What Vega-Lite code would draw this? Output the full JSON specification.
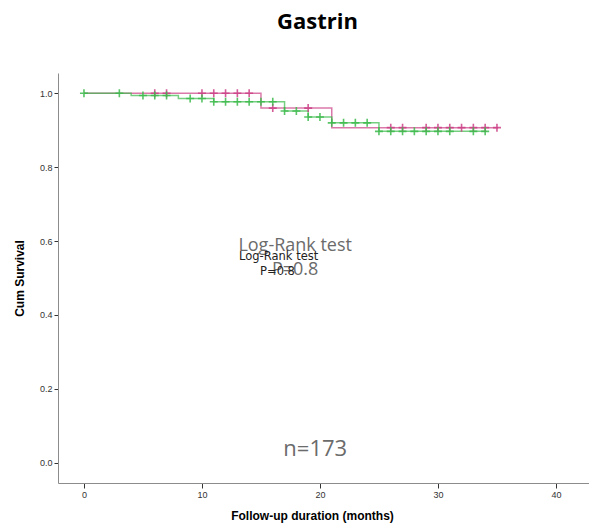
{
  "$schema": "https://vega.github.io/schema/vega-lite/v6.json",
  "width": 531,
  "height": 410,
  "autosize": {"type": "none"},
  "padding": {"left": 58, "top": 73, "right": 0, "bottom": 41},
  "background": "white",
  "title": {"text": "Gastrin", "font": "Open Sans", "fontSize": 22, "fontWeight": "bold", "color": "#000000", "anchor": "middle", "frame": "group", "dx": -6, "offset": 39},
  "config": {
    "view": {"stroke": null},
    "axis": {"grid": false, "domainColor": "#8c8c8c", "domainWidth": 1, "tickColor": "#333333", "labelFont": "Liberation Sans", "labelFontSize": 9, "labelColor": "#333333", "titleFont": "Liberation Sans", "titleFontSize": 12, "titleFontWeight": "bold", "titleColor": "#000000"}
  },
  "datasets": {
    "curve": [
      {"g": "A", "t": 0, "s": 1.0},
      {"g": "A", "t": 15, "s": 0.960},
      {"g": "A", "t": 21, "s": 0.907},
      {"g": "A", "t": 35.1, "s": 0.907},
      {"g": "B", "t": 0, "s": 1.0},
      {"g": "B", "t": 4, "s": 0.994},
      {"g": "B", "t": 8, "s": 0.986},
      {"g": "B", "t": 11, "s": 0.977},
      {"g": "B", "t": 17, "s": 0.952},
      {"g": "B", "t": 19, "s": 0.936},
      {"g": "B", "t": 21, "s": 0.920},
      {"g": "B", "t": 25, "s": 0.897},
      {"g": "B", "t": 34.1, "s": 0.897}
    ],
    "cens": [
      {"g": "A", "t": 6, "s": 1.0},
      {"g": "A", "t": 7, "s": 1.0},
      {"g": "A", "t": 10, "s": 1.0},
      {"g": "A", "t": 11, "s": 1.0},
      {"g": "A", "t": 12, "s": 1.0},
      {"g": "A", "t": 13, "s": 1.0},
      {"g": "A", "t": 14, "s": 1.0},
      {"g": "A", "t": 16, "s": 0.960},
      {"g": "A", "t": 19, "s": 0.960},
      {"g": "A", "t": 26, "s": 0.907},
      {"g": "A", "t": 27, "s": 0.907},
      {"g": "A", "t": 29, "s": 0.907},
      {"g": "A", "t": 30, "s": 0.907},
      {"g": "A", "t": 31, "s": 0.907},
      {"g": "A", "t": 32, "s": 0.907},
      {"g": "A", "t": 33, "s": 0.907},
      {"g": "A", "t": 34, "s": 0.907},
      {"g": "A", "t": 35, "s": 0.907},
      {"g": "B", "t": 0, "s": 1.0},
      {"g": "B", "t": 3, "s": 1.0},
      {"g": "B", "t": 5, "s": 0.994},
      {"g": "B", "t": 6, "s": 0.994},
      {"g": "B", "t": 7, "s": 0.994},
      {"g": "B", "t": 9, "s": 0.986},
      {"g": "B", "t": 10, "s": 0.986},
      {"g": "B", "t": 11, "s": 0.977},
      {"g": "B", "t": 12, "s": 0.977},
      {"g": "B", "t": 13, "s": 0.977},
      {"g": "B", "t": 14, "s": 0.977},
      {"g": "B", "t": 15, "s": 0.977},
      {"g": "B", "t": 16, "s": 0.977},
      {"g": "B", "t": 17, "s": 0.952},
      {"g": "B", "t": 18, "s": 0.952},
      {"g": "B", "t": 19, "s": 0.936},
      {"g": "B", "t": 20, "s": 0.936},
      {"g": "B", "t": 21, "s": 0.920},
      {"g": "B", "t": 22, "s": 0.920},
      {"g": "B", "t": 23, "s": 0.920},
      {"g": "B", "t": 24, "s": 0.920},
      {"g": "B", "t": 25, "s": 0.897},
      {"g": "B", "t": 26, "s": 0.897},
      {"g": "B", "t": 27, "s": 0.897},
      {"g": "B", "t": 28, "s": 0.897},
      {"g": "B", "t": 29, "s": 0.897},
      {"g": "B", "t": 30, "s": 0.897},
      {"g": "B", "t": 31, "s": 0.897},
      {"g": "B", "t": 33, "s": 0.897},
      {"g": "B", "t": 34, "s": 0.897}
    ],
    "bigTest": [{"label": "Log-Rank test", "t": 17.9, "s": 0.574}],
    "bigP": [{"label": "P=0.8", "t": 17.9, "s": 0.507}],
    "smallTest": [{"label": "Log-Rank test", "t": 16.5, "s": 0.550}],
    "smallP": [{"label": "P=0.8", "t": 16.4, "s": 0.507}],
    "nText": [{"label": "n=173", "t": 19.6, "s": 0.017}]
  },
  "encoding": {
    "x": {"field": "t", "type": "quantitative", "scale": {"domain": [-2.2, 42.8], "nice": false, "zero": false},
      "axis": {"title": "Follow-up duration (months)", "values": [0, 10, 20, 30, 40], "tickSize": 5, "labelPadding": 2, "titleX": 254, "titleY": 36, "titleBaseline": "alphabetic", "titleAnchor": "middle"}},
    "y": {"field": "s", "type": "quantitative", "scale": {"domain": [-0.055, 1.055], "nice": false, "zero": false},
      "axis": {"title": "Cum Survival", "values": [0, 0.2, 0.4, 0.6, 0.8, 1.0], "format": ".1f", "tickSize": 4, "labelPadding": 2, "titleX": -39, "titleY": 205, "titleAngle": -90, "titleAlign": "center", "titleBaseline": "middle"}}
  },
  "layer": [
    {
      "data": {"name": "curve"},
      "mark": {"type": "line", "interpolate": "step-after", "strokeWidth": 1.5, "opacity": 0.7},
      "encoding": {
        "color": {"field": "g", "type": "nominal", "scale": {"domain": ["A", "B"], "range": ["#cc3f86", "#3cba4c"]}, "legend": null},
        "detail": {"field": "g"}
      }
    },
    {
      "data": {"name": "cens"},
      "mark": {"type": "point", "shape": "M-1,0H1M0,-1V1", "size": 64, "strokeWidth": 1.6, "filled": false, "opacity": 0.85},
      "encoding": {
        "color": {"field": "g", "type": "nominal", "scale": {"domain": ["A", "B"], "range": ["#cc3f86", "#3cba4c"]}, "legend": null}
      }
    },
    {
      "data": {"name": "bigTest"},
      "mark": {"type": "text", "font": "Open Sans", "fontSize": 18, "color": "#6b6b6b", "align": "center", "baseline": "alphabetic"},
      "encoding": {"text": {"field": "label"}}
    },
    {
      "data": {"name": "bigP"},
      "mark": {"type": "text", "font": "Open Sans", "fontSize": 18, "color": "#6b6b6b", "align": "center", "baseline": "alphabetic"},
      "encoding": {"text": {"field": "label"}}
    },
    {
      "data": {"name": "smallTest"},
      "mark": {"type": "text", "font": "DejaVu Sans", "fontSize": 11.5, "color": "#222222", "align": "center", "baseline": "alphabetic"},
      "encoding": {"text": {"field": "label"}}
    },
    {
      "data": {"name": "smallP"},
      "mark": {"type": "text", "font": "DejaVu Sans", "fontSize": 11.5, "color": "#222222", "align": "center", "baseline": "alphabetic"},
      "encoding": {"text": {"field": "label"}}
    },
    {
      "data": {"name": "nText"},
      "mark": {"type": "text", "font": "Open Sans", "fontSize": 22, "color": "#6b6b6b", "align": "center", "baseline": "alphabetic"},
      "encoding": {"text": {"field": "label"}}
    }
  ]
}
